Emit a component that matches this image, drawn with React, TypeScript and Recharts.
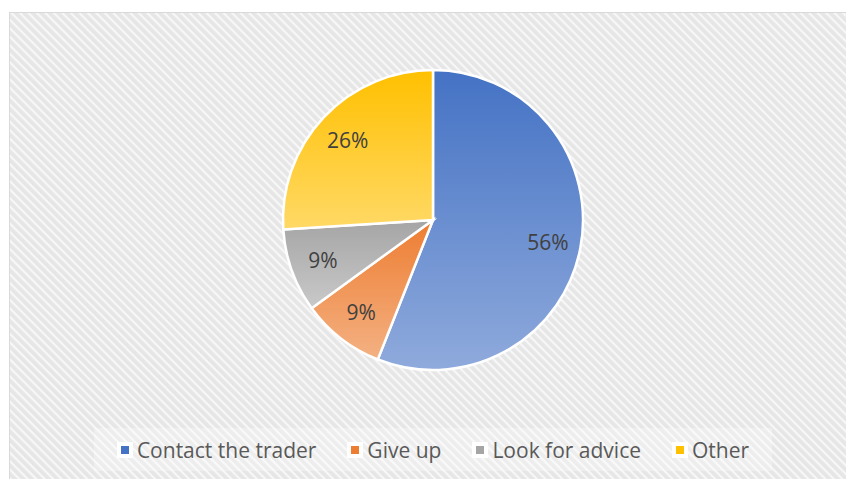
import React from "react";
import { PieChart, Pie, Cell, Legend } from "recharts";

const categories = ["Contact the trader", "Give up", "Look for advice", "Other"];
const shares = [56, 9, 9, 26];

// gradient stops: top colour, bottom colour
const topColors = ["#4472C4", "#ED7D31", "#A5A5A5", "#FFC000"];
const bottomColors = ["#8FAADC", "#F4B183", "#C9C9C9", "#FFD966"];
const legendColors = ["#4472C4", "#ED7D31", "#A5A5A5", "#FFC000"];

const data = categories.map((name, i) => ({ name, value: shares[i] }));

const W = 846;
const H = 479;
const FONT = "'Open Sans', 'Liberation Sans', sans-serif";

const RADIAN = Math.PI / 180;

const renderLabel = (props: any) => {
  const { cx, cy, midAngle, outerRadius, percent } = props;
  const r = outerRadius * 0.78;
  const x = cx + r * Math.cos(-midAngle * RADIAN);
  const y = cy + r * Math.sin(-midAngle * RADIAN);
  return (
    <text
      x={x}
      y={y}
      fill="#404040"
      fontSize={21}
      fontFamily={FONT}
      textAnchor="middle"
      dominantBaseline="central"
    >
      {`${Math.round(percent * 100)}%`}
    </text>
  );
};

const LegendContent = ({ payload }: any) => (
  <div
    style={{
      display: "flex",
      alignItems: "center",
      justifyContent: "center",
      height: 43,
      fontFamily: FONT,
      fontSize: 21,
      color: "#595959",
      whiteSpace: "nowrap",
    }}
  >
    {(payload || []).map((entry: any, i: number) => (
      <div
        key={entry.value}
        style={{ display: "flex", alignItems: "center", marginRight: i < 3 ? 31 : 0 }}
      >
        <span
          style={{
            display: "inline-block",
            width: 8,
            height: 8,
            background: legendColors[i],
            border: "4px solid #fff",
            marginRight: 4,
          }}
        />
        <span>{entry.value}</span>
      </div>
    ))}
  </div>
);

const Background = () => (
  <svg width={W} height={H} style={{ position: "absolute", left: 0, top: 0 }}>
    <defs>
      <pattern id="diag" width="6" height="6" patternUnits="userSpaceOnUse" patternTransform="rotate(45)">
        <rect width="6" height="6" fill="#e6e6e6" />
        <rect width="6" height="2.2" fill="#f7f7f7" />
      </pattern>
      {topColors.map((c, i) => (
        <linearGradient key={i} id={`grad${i}`} x1="0" y1="0" x2="0" y2="1">
          <stop offset="0%" stopColor={c} />
          <stop offset="100%" stopColor={bottomColors[i]} />
        </linearGradient>
      ))}
    </defs>
    <rect x={0} y={0} width={W} height={H} fill="#fff" />
    <rect x={9.5} y={12.5} width={W} height={H} fill="url(#diag)" stroke="#d9d9d9" />
    <rect x={94} y={428} width={678} height={43} fill="#ffffff" opacity={0.3} />
  </svg>
);

export default function App() {
  return (
    <div style={{ position: "absolute", left: 0, top: 0, width: W, height: H, overflow: "hidden" }}>
      <Background />
      <div style={{ position: "absolute", left: 0, top: 0 }}>
        <PieChart width={W} height={H} margin={{ top: 0, right: 0, bottom: 0, left: 0 }}>
          <Pie
            data={data}
            dataKey="value"
            nameKey="name"
            cx={433}
            cy={220}
            outerRadius={150}
            startAngle={90}
            endAngle={-270}
            stroke="#ffffff"
            strokeWidth={2.5}
            label={renderLabel}
            labelLine={false}
            isAnimationActive={false}
          >
            {data.map((d, i) => (
              <Cell key={d.name} fill={`url(#grad${i})`} />
            ))}
          </Pie>
          <Legend
            content={<LegendContent />}
            wrapperStyle={{ position: "absolute", left: 94, top: 428, width: 678, height: 43 }}
          />
        </PieChart>
      </div>
    </div>
  );
}
